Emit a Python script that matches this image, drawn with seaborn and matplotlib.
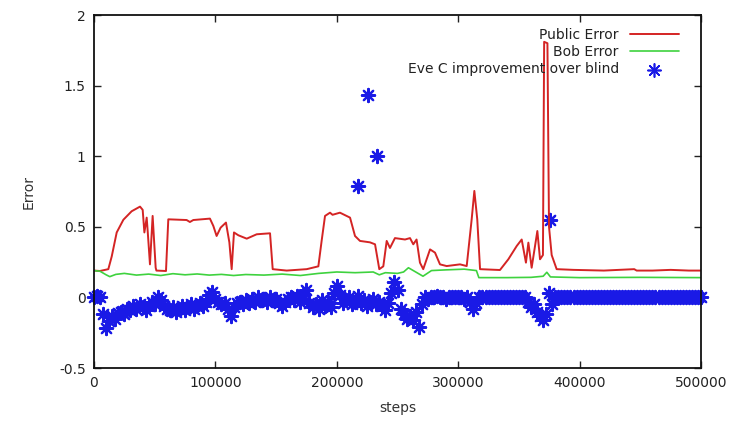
import numpy as np
import pandas as pd
import matplotlib
matplotlib.use("Agg")
import matplotlib.pyplot as plt
import seaborn as sns

# ---- data ----
public_steps = [0, 4900, 11800, 14600, 18700, 24200, 31000, 37900, 40100, 41500,
                43400, 44300, 46100, 48300, 50800, 51400, 59300, 61200, 76300, 79000,
                81800, 95500, 98300, 101000, 104300, 108700, 111500, 113400, 115300, 118900,
                125800, 134000, 145000, 147200, 158700, 175200, 184800, 187500, 190300, 194400,
                196500, 198500, 202600, 210900, 215000, 219100, 227300, 231500, 235000, 238300,
                241100, 243800, 247900, 256200, 260300, 263000, 265700, 268500, 271200, 276800,
                280900, 285000, 290500, 301500, 307000, 311100, 313300, 315700, 318000, 334400,
                341300, 348200, 352300, 355800, 357800, 360500, 365200, 367400, 369800, 370800,
                373500, 374800, 377000, 381100, 395000, 420000, 445000, 447000, 460000, 475000,
                490000, 500000]
public_error = [0.19, 0.187, 0.2, 0.29, 0.46, 0.55, 0.61, 0.643, 0.62, 0.46,
                0.565, 0.46, 0.234, 0.577, 0.21, 0.19, 0.187, 0.553, 0.548, 0.534,
                0.548, 0.558, 0.506, 0.435, 0.494, 0.53, 0.39, 0.2, 0.46, 0.44,
                0.416, 0.447, 0.454, 0.2, 0.19, 0.2, 0.22, 0.4, 0.577, 0.6,
                0.585, 0.59, 0.6, 0.565, 0.435, 0.4, 0.39, 0.376, 0.2, 0.22,
                0.4, 0.35, 0.42, 0.41, 0.42, 0.376, 0.41, 0.246, 0.2, 0.34,
                0.317, 0.234, 0.222, 0.234, 0.222, 0.553, 0.754, 0.553, 0.2, 0.194,
                0.27, 0.364, 0.41, 0.246, 0.388, 0.21, 0.47, 0.27, 0.3, 1.81,
                1.8, 0.5, 0.3, 0.2, 0.195, 0.19, 0.2, 0.19, 0.19, 0.195,
                0.19, 0.19]

bob_steps = [0, 5000, 10000, 13000, 18000, 25000, 35000, 45000, 55000, 65000,
             75000, 85000, 95000, 105000, 115000, 125000, 140000, 155000, 170000, 185000,
             200000, 215000, 230000, 235000, 240000, 250000, 255000, 259000, 265000, 271000,
             278000, 290000, 305000, 315000, 317000, 340000, 360000, 370000, 373000, 376000,
             400000, 450000, 500000]
bob_error = [0.19, 0.185, 0.16, 0.147, 0.163, 0.17, 0.158, 0.165, 0.155, 0.168,
             0.16, 0.166, 0.158, 0.163, 0.155, 0.162, 0.158, 0.165, 0.155, 0.17,
             0.18, 0.175, 0.18, 0.16, 0.175, 0.17, 0.18, 0.21, 0.18, 0.15,
             0.19, 0.195, 0.2, 0.19, 0.14, 0.14, 0.142, 0.15, 0.178, 0.145,
             0.14, 0.142, 0.14]

# Eve improvement, sampled every 2500 steps
eve_step_interval = 2500
eve_early = [0.0, 0.01, 0.0, -0.12, -0.22, -0.17, -0.13, -0.15, -0.11, -0.10,
             -0.12, -0.08, -0.09, -0.06, -0.08, -0.05, -0.07, -0.09, -0.06, -0.03,
             -0.05, 0.0, -0.02, -0.06, -0.08, -0.09, -0.07, -0.10, -0.08, -0.06,
             -0.09, -0.07, -0.05, -0.08, -0.06, -0.04, -0.06, -0.03, 0.02, 0.04,
             -0.01, -0.03, -0.05, -0.04, -0.08, -0.13, -0.07, -0.04, -0.03, -0.05,
             -0.02, -0.04, -0.01, -0.03, 0.0, -0.02, -0.01, -0.03, 0.0, -0.02,
             -0.01, -0.04, -0.06, -0.03, -0.01, 0.0, -0.02, 0.01, -0.03, 0.02,
             0.05, -0.04, -0.07, -0.05, -0.08, -0.02, -0.06, -0.03, -0.07, 0.03,
             0.08, 0.02, -0.04, -0.02, 0.0, -0.05, -0.03, 0.01, -0.04, -0.02,
             -0.06, -0.03, -0.01, -0.05, -0.03, -0.06, -0.09, -0.04, 0.03, 0.11,
             0.05, -0.08, -0.12, -0.15, -0.13, -0.16, -0.10, -0.21, -0.05]
eve_late = [0.0, -0.01, 0.0, 0.0, 0.01, 0.0, 0.0, -0.01, 0.0, 0.0,
            0.0, 0.0, 0.0, -0.01, 0.0, -0.03, -0.08, -0.04, 0.0, 0.0,
            0.0, 0.0, 0.0, 0.0, 0.0, 0.0, 0.0, 0.0, 0.0, 0.0,
            0.0, 0.0, 0.0, 0.0, -0.03, -0.07, -0.05, -0.10, -0.13, -0.16,
            -0.12, 0.03, -0.05, 0.0, 0.0, 0.0, 0.0, 0.0, 0.0, 0.0,
            0.0, 0.0, 0.0, 0.0, 0.0, 0.0, 0.0, 0.0, 0.0, 0.0,
            0.0, 0.0, 0.0, 0.0, 0.0, 0.0, 0.0, 0.0, 0.0, 0.0,
            0.0, 0.0, 0.0, 0.0, 0.0, 0.0, 0.0, 0.0, 0.0, 0.0,
            0.0, 0.0, 0.0, 0.0, 0.0, 0.0, 0.0, 0.0, 0.0, 0.0,
            0.0, 0.0]
eve_out_steps = [217500, 225700, 233300, 375600]
eve_out_vals = [0.79, 1.43, 1.0, 0.55]

x_ticks = [0, 100000, 200000, 300000, 400000, 500000]
y_ticks = [-0.5, 0, 0.5, 1, 1.5, 2]

# ---- build frames ----
eve_vals = eve_early + eve_late
eve_steps = [i * eve_step_interval for i in range(len(eve_vals))]
eve_df = pd.DataFrame({"steps": eve_steps + eve_out_steps,
                       "Error": eve_vals + eve_out_vals})
pub_df = pd.DataFrame({"steps": public_steps, "Error": public_error})
bob_df = pd.DataFrame({"steps": bob_steps, "Error": bob_error})

sns.set_style("ticks")
plt.rcParams["font.family"] = ["DejaVu Sans"]

fig = plt.figure(figsize=(7.33, 4.24), dpi=100)
ax = fig.add_axes([94 / 733, 1 - 368 / 424, (701 - 94) / 733, (368 - 15) / 424])

red = "#d42424"
green = "#3ed23e"
blue = "#1a1ae6"
star = (8, 2, 0)

sns.lineplot(data=pub_df, x="steps", y="Error", ax=ax, color=red, lw=1.4,
             label="Public Error", estimator=None, sort=False)
sns.lineplot(data=bob_df, x="steps", y="Error", ax=ax, color=green, lw=1.2,
             label="Bob Error", estimator=None, sort=False)
sns.scatterplot(data=eve_df, x="steps", y="Error", ax=ax, marker=star, s=90,
                color=blue, edgecolor=blue, linewidth=1.6,
                label="Eve C improvement over blind")
for coll in ax.collections:
    coll.set_clip_on(False)

ax.set_xlim(0, 500000)
ax.set_ylim(-0.5, 2)
ax.set_xticks(x_ticks)
ax.set_xticklabels([str(v) for v in x_ticks])
ax.set_yticks(y_ticks)
ax.set_yticklabels(["-0.5", "0", "0.5", "1", "1.5", "2"])
ax.tick_params(direction="in", length=5, width=1, top=True, right=True,
               labelsize=10, colors="#222222", pad=6)
for sp in ax.spines.values():
    sp.set_linewidth(1.3)
    sp.set_color("#111111")
    sp.set_visible(True)
ax.set_xlabel("steps", fontsize=10, color="#333333", labelpad=8)
ax.set_ylabel("Error", fontsize=10, color="#333333", labelpad=17)

leg = ax.legend(loc="upper right", frameon=False, markerfirst=False,
                fontsize=10, handlelength=3.5, labelspacing=0.24,
                bbox_to_anchor=(1.0 - 10 / 607, 1.0), borderaxespad=0.0,
                borderpad=0.9, handletextpad=0.8)
for t in leg.get_texts():
    t.set_color("#222222")
for h in leg.legend_handles:
    if hasattr(h, "set_linewidths") and not hasattr(h, "get_xdata"):
        h.set_linewidths([1.2])

fig.savefig("out.png", dpi=100)
